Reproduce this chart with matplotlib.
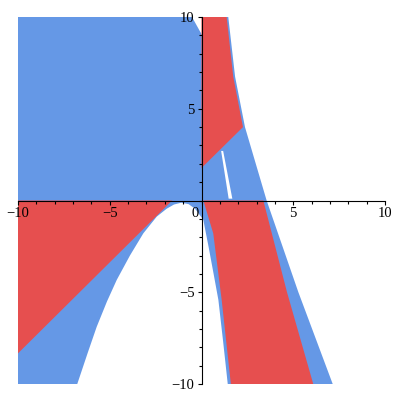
import matplotlib
matplotlib.use("Agg")
import matplotlib.pyplot as plt

# -----------------------
# Region boundaries (data units)
# -----------------------
BLUE = '#6598e6'
RED = '#e64f4f'

# whole plot window (blue is the background region)
box_x = [-10, 10, 10, -10]
box_y = [-10, -10, 10, 10]

# white cut-outs
corner_x = [-0.53, 0.0, 0.0]
corner_y = [10.0, 10.0, 9.0]

right_x = [1.46, 10, 10, 7.15, 5.28, 3.55, 2.95, 2.37, 1.83]
right_y = [10.0, 10, -10, -10.0, -5.0, 0.0, 2.03, 4.0, 6.75]

hole_x = [-6.77, -6.2, -5.71, -5.15, -4.62, -3.9, -3.17, -2.44, -1.9, -1.5, -1.1,
          -0.7, -0.35, -0.05, 0.1, 0.4, 0.66, 0.92, 1.18, 1.43]
hole_y = [-10.0, -8.3, -6.88, -5.5, -4.33, -3.0, -1.79, -0.88, -0.45, -0.22, -0.12,
          -0.2, -0.45, -0.85, -1.06, -2.6, -4.0, -5.42, -7.7, -10.0]

sliver_x = [1.07, 1.18, 1.68, 1.48]
sliver_y = [2.70, 2.70, 0.10, 0.10]

# red regions
red_top_x = [0.0, 1.37, 1.73, 2.26, 0.0]
red_top_y = [10.0, 10.0, 6.75, 4.0, 1.77]

red_left_x = [-10, -10, -1.6]
red_left_y = [0.0, -8.33, 0.0]

red_low_x = [0.1, 3.37, 4.66, 6.09, 1.6, 1.1, 0.64]
red_low_y = [0.0, 0.0, -5.0, -10.0, -10.0, -5.42, -1.79]

fig = plt.figure(figsize=(4, 4), dpi=100)
ax = fig.add_axes([0.045, 0.04, 0.9175, 0.9175])

ax.fill(box_x, box_y, color=BLUE, lw=0)
for xs, ys in [(corner_x, corner_y), (right_x, right_y), (hole_x, hole_y), (sliver_x, sliver_y)]:
    ax.fill(xs, ys, color='white', lw=0)
for xs, ys in [(red_top_x, red_top_y), (red_left_x, red_left_y), (red_low_x, red_low_y)]:
    ax.fill(xs, ys, color=RED, lw=0)

ax.set_xlim(-10, 10)
ax.set_ylim(-10, 10)

# axes through the origin, Maple style
for s in ['top', 'right']:
    ax.spines[s].set_visible(False)
ax.spines['left'].set_position(('data', 0))
ax.spines['bottom'].set_position(('data', 0))
ax.spines['left'].set_zorder(5)
ax.spines['bottom'].set_zorder(5)

ax.set_xticks([-10, -5, 5, 10])
ax.set_yticks([-10, -5, 5, 10])
ax.set_xticks(range(-10, 11), minor=True)
ax.set_yticks(range(-10, 11), minor=True)
ax.tick_params(which='both', direction='out', length=3, width=0.8, pad=2)
ax.tick_params(which='minor', length=2)
for lab in ax.get_xticklabels() + ax.get_yticklabels():
    lab.set_family('Liberation Serif')
    lab.set_fontsize(10.5)
ax.text(-0.15, -0.35, '0', ha='right', va='top', family='Liberation Serif', fontsize=10.5)

fig.savefig('out.png', dpi=100)
